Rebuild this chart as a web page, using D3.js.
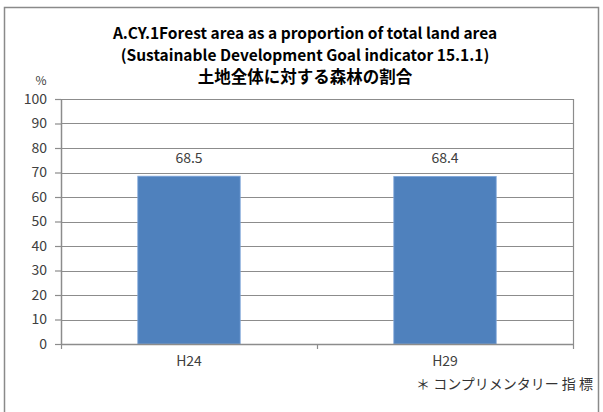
<!DOCTYPE html>
<html>
<head>
<meta charset="utf-8">
<script src="https://cdn.jsdelivr.net/npm/d3@7"></script>
<style>
  body { margin: 0; background: #fff; }
  text { font-family: "Noto Sans CJK JP", "Noto Sans", sans-serif; }
</style>
</head>
<body>
<div id="chart"></div>
<script>
// chart data
const categories = ['H24', 'H29'];
const values = [68.5, 68.4];
const yTicks = [0, 10, 20, 30, 40, 50, 60, 70, 80, 90, 100];
const titleLines = [
  'A.CY.1Forest area as a proportion of total land area',
  '(Sustainable Development Goal indicator 15.1.1)',
  '土地全体に対する森林の割合'
];
const unitLabel = '%';
const footnote = '＊ コンプリメンタリー 指 標';

const W = 603, H = 412;
const margin = { top: 99, right: 30, bottom: 68, left: 61 };
const width = W - margin.left - margin.right;
const height = H - margin.top - margin.bottom;
const grey = '#8c8c8c';

const svg = d3.select('#chart')
  .append('svg')
    .attr('width', W)
    .attr('height', H);

// outer frame (no bottom edge visible)
svg.append('path')
  .attr('d', 'M4.5,' + H + 'V7.5H598.5V' + H)
  .attr('fill', 'none')
  .attr('stroke', '#8a8a8a')
  .attr('stroke-width', 1.5);

// titles (last line is the Japanese one, drawn a bit larger)
svg.selectAll('text.title')
  .data(titleLines)
  .enter().append('text')
    .attr('class', 'title')
    .attr('x', 305)
    .attr('y', (d, i) => 39 + i * 22)
    .attr('text-anchor', 'middle')
    .style('font-size', (d, i) => i === 2 ? '16.5px' : '15.5px')
    .style('font-weight', 'bold')
    .attr('fill', '#000')
    .text((d) => d);

const g = svg.append('g')
  .attr('transform', 'translate(' + margin.left + ',' + margin.top + ')');

const xScale = d3.scaleBand()
  .domain(categories)
  .range([0, width]);
const yScale = d3.scaleLinear()
  .domain([0, 100])
  .range([height, 0]);

// gridlines
g.selectAll('line.grid')
  .data(yTicks)
  .enter().append('line')
    .attr('class', 'grid')
    .attr('x1', 0)
    .attr('x2', width)
    .attr('y1', (d) => Math.round(yScale(d)) + 0.5)
    .attr('y2', (d) => Math.round(yScale(d)) + 0.5)
    .attr('stroke', grey)
    .attr('stroke-width', 1.2);

// right edge of plot area
g.append('line')
  .attr('x1', width + 0.5).attr('x2', width + 0.5)
  .attr('y1', 0).attr('y2', height)
  .attr('stroke', grey)
  .attr('stroke-width', 1.2);

// bars
const barW = xScale.bandwidth() * 0.4;
g.selectAll('rect.bar')
  .data(values)
  .enter().append('rect')
    .attr('class', 'bar')
    .attr('x', (d, i) => xScale(categories[i]) + (xScale.bandwidth() - barW) / 2)
    .attr('width', barW)
    .attr('y', (d) => yScale(d))
    .attr('height', (d) => height - yScale(d))
    .attr('fill', '#4f81bd')
    .attr('stroke', '#7ea6d9')
    .attr('stroke-width', 0.8);

// value labels
g.selectAll('text.value')
  .data(values)
  .enter().append('text')
    .attr('class', 'value')
    .attr('x', (d, i) => xScale(categories[i]) + xScale.bandwidth() / 2)
    .attr('y', (d) => yScale(d) - 13)
    .attr('text-anchor', 'middle')
    .style('font-size', '14px')
    .attr('fill', '#404040')
    .text((d) => d.toFixed(1));

// y axis
const yAxis = g.append('g')
  .call(d3.axisLeft(yScale)
    .tickValues(yTicks)
    .tickSize(6)
    .tickPadding(8)
    .tickSizeOuter(0));
yAxis.selectAll('line').attr('stroke', grey).attr('stroke-width', 1.2);
yAxis.select('.domain').attr('stroke', grey).attr('stroke-width', 1.5);
yAxis.selectAll('text')
  .style('font-size', '14px')
  .style('font-family', '"Noto Sans CJK JP", sans-serif')
  .attr('fill', '#404040');

// x axis
const xAxis = g.append('g')
  .attr('transform', 'translate(0,' + height + ')')
  .call(d3.axisBottom(xScale).tickSize(0).tickPadding(12).tickSizeOuter(0));
xAxis.select('.domain').attr('stroke', grey).attr('stroke-width', 1.5);
xAxis.selectAll('text')
  .style('font-size', '14px')
  .style('font-family', '"Noto Sans CJK JP", sans-serif')
  .attr('fill', '#404040');

// category boundary ticks
const bounds = [0].concat(categories.map((c) => xScale(c) + xScale.bandwidth()));
g.selectAll('line.xtick')
  .data(bounds)
  .enter().append('line')
    .attr('class', 'xtick')
    .attr('x1', (d) => Math.round(d) + 0.5)
    .attr('x2', (d) => Math.round(d) + 0.5)
    .attr('y1', height)
    .attr('y2', height + 5)
    .attr('stroke', grey)
    .attr('stroke-width', 1.2);

// unit label
svg.append('text')
  .attr('x', 41)
  .attr('y', 85)
  .attr('text-anchor', 'middle')
  .style('font-size', '12px')
  .attr('fill', '#404040')
  .text(unitLabel);

// footnote
svg.append('text')
  .attr('x', 593)
  .attr('y', 389)
  .attr('text-anchor', 'end')
  .style('font-size', '14px')
  .attr('fill', '#333')
  .text(footnote);
</script>
</body>
</html>
